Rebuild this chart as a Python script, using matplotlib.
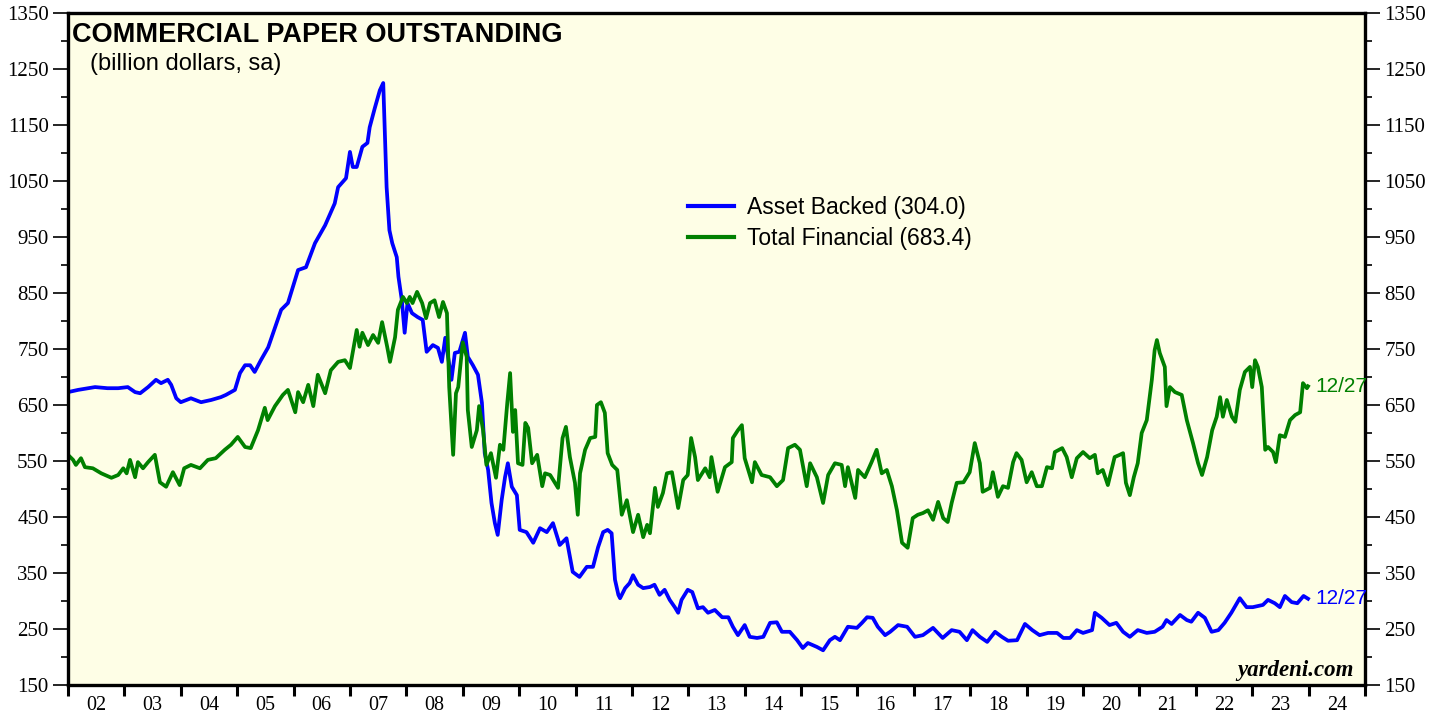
import numpy as np
import matplotlib
matplotlib.use("Agg")
from matplotlib import pyplot as plt
from matplotlib.ticker import MultipleLocator, FixedLocator, NullFormatter

# Asset backed commercial paper, billion dollars (decimal year, value)
ab_years = [2002.00, 2002.18, 2002.48, 2002.70, 2002.89, 2003.06, 2003.19, 2003.28, 2003.42, 2003.56,
            2003.65, 2003.77, 2003.83, 2003.92, 2004.00, 2004.18, 2004.36, 2004.54, 2004.71, 2004.80,
            2004.96, 2005.05, 2005.14, 2005.23, 2005.31, 2005.42, 2005.55, 2005.78, 2005.90, 2006.08,
            2006.22, 2006.38, 2006.56, 2006.73, 2006.79, 2006.93, 2007.00, 2007.05, 2007.12, 2007.22,
            2007.31, 2007.35, 2007.44, 2007.53, 2007.59, 2007.65, 2007.70, 2007.75, 2007.83, 2007.86,
            2007.92, 2007.97, 2008.02, 2008.10, 2008.20, 2008.29, 2008.36, 2008.47, 2008.56, 2008.63,
            2008.69, 2008.80, 2008.86, 2008.94, 2009.04, 2009.09, 2009.18, 2009.27, 2009.34, 2009.39,
            2009.45, 2009.51, 2009.57, 2009.62, 2009.69, 2009.75, 2009.80, 2009.87, 2009.96, 2010.01,
            2010.13, 2010.25, 2010.37, 2010.49, 2010.60, 2010.72, 2010.84, 2010.95, 2011.07, 2011.20,
            2011.31, 2011.40, 2011.49, 2011.57, 2011.64, 2011.70, 2011.76, 2011.79, 2011.88, 2011.96,
            2012.02, 2012.11, 2012.20, 2012.32, 2012.40, 2012.49, 2012.58, 2012.67, 2012.76, 2012.82,
            2012.88, 2012.99, 2013.07, 2013.17, 2013.26, 2013.35, 2013.47, 2013.60, 2013.71, 2013.79,
            2013.88, 2014.00, 2014.09, 2014.22, 2014.33, 2014.45, 2014.57, 2014.66, 2014.80, 2014.93,
            2015.03, 2015.12, 2015.28, 2015.39, 2015.51, 2015.60, 2015.69, 2015.83, 2015.99, 2016.08,
            2016.17, 2016.27, 2016.36, 2016.49, 2016.58, 2016.72, 2016.88, 2017.02, 2017.16, 2017.34,
            2017.51, 2017.67, 2017.81, 2017.94, 2018.04, 2018.17, 2018.30, 2018.44, 2018.56, 2018.67,
            2018.83, 2018.97, 2019.10, 2019.23, 2019.38, 2019.54, 2019.65, 2019.77, 2019.89, 2020.00,
            2020.16, 2020.21, 2020.33, 2020.47, 2020.59, 2020.71, 2020.83, 2020.97, 2021.13, 2021.27,
            2021.41, 2021.48, 2021.57, 2021.72, 2021.84, 2021.92, 2022.04, 2022.16, 2022.28, 2022.40,
            2022.51, 2022.63, 2022.78, 2022.90, 2023.01, 2023.19, 2023.28, 2023.40, 2023.49, 2023.58,
            2023.70, 2023.80, 2023.91, 2023.99]
ab_vals = [673, 677, 682, 680, 680, 682, 673, 671, 682, 695,
           689, 695, 686, 662, 655, 662, 655, 659, 664, 668,
           677, 707, 721, 721, 709, 730, 753, 820, 832, 891,
           896, 939, 971, 1010, 1039, 1055, 1102, 1075, 1075, 1111,
           1118, 1146, 1180, 1212, 1225, 1039, 962, 939, 914, 879,
           837, 779, 832, 814, 807, 802, 745, 757, 752, 727,
           770, 695, 743, 745, 779, 736, 721, 704, 654, 564,
           534, 475, 439, 418, 480, 521, 546, 504, 489, 427,
           423, 404, 430, 423, 439, 400, 412, 352, 343, 361,
           361, 396, 423, 427, 421, 338, 311, 305, 323, 332,
           346, 329, 323, 325, 329, 311, 320, 302, 289, 279,
           302, 320, 316, 287, 289, 279, 284, 271, 271, 254,
           239, 257, 236, 234, 236, 261, 262, 245, 245, 230,
           216, 225, 218, 212, 230, 236, 230, 254, 252, 261,
           271, 270, 254, 239, 245, 257, 254, 236, 239, 252,
           234, 248, 245, 230, 248, 236, 227, 245, 236, 229,
           230, 259, 248, 239, 243, 243, 234, 234, 248, 243,
           248, 279, 270, 257, 261, 245, 236, 248, 243, 245,
           254, 266, 259, 275, 266, 263, 279, 270, 245, 248,
           261, 279, 305, 289, 289, 293, 302, 296, 289, 309,
           298, 296, 309, 304.0]

# Total financial commercial paper, billion dollars
tf_years = [2002.00, 2002.09, 2002.14, 2002.23, 2002.30, 2002.44, 2002.59, 2002.77, 2002.89, 2002.98,
            2003.04, 2003.10, 2003.19, 2003.24, 2003.33, 2003.42, 2003.54, 2003.63, 2003.74, 2003.86,
            2003.98, 2004.06, 2004.18, 2004.34, 2004.48, 2004.62, 2004.78, 2004.89, 2005.01, 2005.14,
            2005.24, 2005.37, 2005.49, 2005.54, 2005.67, 2005.81, 2005.90, 2006.03, 2006.08, 2006.17,
            2006.26, 2006.35, 2006.43, 2006.56, 2006.66, 2006.79, 2006.91, 2007.00, 2007.12, 2007.17,
            2007.22, 2007.32, 2007.41, 2007.50, 2007.57, 2007.66, 2007.71, 2007.80, 2007.85, 2007.94,
            2008.01, 2008.06, 2008.11, 2008.19, 2008.28, 2008.35, 2008.42, 2008.50, 2008.58, 2008.65,
            2008.72, 2008.76, 2008.83, 2008.88, 2008.92, 2009.00, 2009.07, 2009.09, 2009.16, 2009.25,
            2009.29, 2009.36, 2009.42, 2009.50, 2009.59, 2009.66, 2009.72, 2009.79, 2009.84, 2009.89,
            2009.93, 2009.98, 2010.06, 2010.11, 2010.16, 2010.23, 2010.32, 2010.41, 2010.46, 2010.55,
            2010.63, 2010.69, 2010.77, 2010.83, 2010.90, 2010.99, 2011.04, 2011.08, 2011.17, 2011.26,
            2011.35, 2011.38, 2011.45, 2011.52, 2011.57, 2011.65, 2011.74, 2011.82, 2011.91, 2012.02,
            2012.11, 2012.20, 2012.27, 2012.32, 2012.41, 2012.46, 2012.55, 2012.62, 2012.71, 2012.82,
            2012.91, 2012.99, 2013.05, 2013.12, 2013.17, 2013.30, 2013.38, 2013.41, 2013.52, 2013.65,
            2013.77, 2013.79, 2013.88, 2013.95, 2014.00, 2014.13, 2014.18, 2014.30, 2014.45, 2014.57,
            2014.68, 2014.77, 2014.89, 2014.98, 2015.10, 2015.16, 2015.28, 2015.39, 2015.48, 2015.60,
            2015.72, 2015.78, 2015.83, 2015.96, 2016.01, 2016.13, 2016.25, 2016.34, 2016.43, 2016.52,
            2016.61, 2016.70, 2016.79, 2016.89, 2016.98, 2017.07, 2017.16, 2017.25, 2017.34, 2017.43,
            2017.52, 2017.60, 2017.67, 2017.76, 2017.88, 2017.99, 2018.08, 2018.17, 2018.22, 2018.35,
            2018.40, 2018.49, 2018.58, 2018.67, 2018.76, 2018.82, 2018.91, 2019.00, 2019.09, 2019.18,
            2019.27, 2019.36, 2019.45, 2019.50, 2019.63, 2019.71, 2019.80, 2019.89, 2020.00, 2020.12,
            2020.21, 2020.26, 2020.35, 2020.44, 2020.56, 2020.65, 2020.71, 2020.76, 2020.83, 2020.90,
            2020.97, 2021.04, 2021.13, 2021.22, 2021.27, 2021.31, 2021.36, 2021.45, 2021.48, 2021.54,
            2021.63, 2021.75, 2021.84, 2021.95, 2022.04, 2022.11, 2022.20, 2022.29, 2022.37, 2022.43,
            2022.48, 2022.55, 2022.64, 2022.70, 2022.78, 2022.87, 2022.96, 2023.00, 2023.05, 2023.10,
            2023.17, 2023.23, 2023.28, 2023.37, 2023.42, 2023.49, 2023.58, 2023.67, 2023.76, 2023.85,
            2023.90, 2023.97, 2023.99]
tf_vals = [561, 552, 543, 555, 539, 537, 528, 520, 525, 537,
           528, 552, 521, 548, 537, 548, 561, 512, 504, 530,
           507, 537, 543, 537, 552, 555, 570, 579, 593, 575,
           573, 605, 645, 623, 648, 668, 677, 637, 673, 655,
           686, 648, 704, 671, 712, 727, 730, 716, 784, 754,
           779, 757, 775, 761, 798, 754, 727, 771, 820, 843,
           832, 843, 832, 852, 832, 805, 832, 837, 807, 834,
           814, 682, 561, 671, 682, 762, 736, 641, 575, 605,
           648, 605, 543, 564, 520, 579, 570, 654, 707, 602,
           641, 546, 543, 618, 609, 546, 561, 505, 528, 525,
           512, 502, 591, 611, 557, 511, 454, 528, 570, 591,
           593, 650, 655, 636, 564, 543, 534, 454, 480, 423,
           454, 414, 436, 421, 502, 468, 493, 528, 530, 466,
           516, 525, 591, 557, 516, 537, 521, 557, 495, 539,
           548, 591, 605, 614, 555, 512, 548, 525, 521, 505,
           516, 573, 579, 570, 505, 546, 521, 475, 525, 546,
           543, 505, 539, 484, 534, 521, 548, 570, 528, 534,
           505, 462, 404, 395, 448, 454, 457, 462, 445, 477,
           448, 441, 475, 511, 512, 530, 582, 546, 495, 502,
           530, 486, 505, 502, 548, 564, 552, 512, 530, 505,
           505, 539, 537, 566, 573, 557, 521, 555, 566, 555,
           561, 528, 534, 507, 557, 561, 564, 511, 489, 521,
           546, 600, 623, 695, 748, 766, 743, 718, 648, 682,
           673, 668, 623, 582, 546, 525, 557, 605, 629, 664,
           629, 659, 629, 620, 677, 709, 718, 682, 730, 718,
           682, 570, 575, 566, 548, 596, 593, 623, 632, 637,
           689, 680, 683.4]

year_labels = ["02", "03", "04", "05", "06", "07", "08", "09", "10", "11", "12", "13",
               "14", "15", "16", "17", "18", "19", "20", "21", "22", "23", "24"]
last_date = "12/27"

BLUE = "#0000ff"
GREEN = "#008000"
sans = "Liberation Sans"

plt.rcParams["font.family"] = "Liberation Serif"

fig = plt.figure(figsize=(14.46, 7.17), dpi=100)
ax = fig.add_axes([68 / 1446, 32 / 717, 1297 / 1446, 672 / 717])
ax.set_facecolor("#fefee6")

ax.plot(ab_years, ab_vals, color=BLUE, lw=2.7, label="Asset Backed (%.1f)" % ab_vals[-1])
ax.plot(tf_years, tf_vals, color=GREEN, lw=2.7, label="Total Financial (%.1f)" % tf_vals[-1])

ax.set_xlim(2002, 2025)
ax.set_ylim(150, 1350)

# y axis: labels both sides, minor ticks between
ax.set_yticks(np.arange(150, 1351, 100))
ax.yaxis.set_minor_locator(MultipleLocator(50))
ax.tick_params(axis="y", which="major", length=11, width=1.2, direction="out",
               right=True, labelright=True, pad=3, labelsize=15)
ax.tick_params(axis="y", which="minor", length=5, width=1.2, direction="out", right=True)

# x axis: ticks at year boundaries, labels centred in each year
year_starts = np.arange(2002, 2026)
ax.xaxis.set_major_locator(FixedLocator(year_starts))
ax.xaxis.set_major_formatter(NullFormatter())
ax.xaxis.set_minor_locator(FixedLocator(year_starts[:-1] + 0.5))
ax.set_xticklabels(year_labels, minor=True)
ax.tick_params(axis="x", which="major", length=8, width=2.2, direction="out")
ax.tick_params(axis="x", which="minor", length=0, pad=8, labelsize=14.5)

for s in ax.spines.values():
    s.set_linewidth(2.4)

ax.text(0.003, 0.986, "COMMERCIAL PAPER OUTSTANDING", transform=ax.transAxes,
        fontsize=19.5, fontweight="bold", family=sans, va="top", ha="left")
ax.text(0.017, 0.94, "(billion dollars, sa)", transform=ax.transAxes,
        fontsize=17, family=sans, va="top", ha="left")

leg = ax.legend(loc="upper left", bbox_to_anchor=(0.462, 0.759), frameon=False,
                prop={"family": sans, "size": 16.5}, handlelength=2.0,
                handletextpad=0.6, labelspacing=0.38)
for h in leg.legend_handles:
    h.set_linewidth(3)

ax.annotate(last_date, xy=(ab_years[-1], ab_vals[-1]), xytext=(5, 0), textcoords="offset points",
            color=BLUE, fontsize=15, family=sans, va="center", ha="left")
ax.annotate(last_date, xy=(tf_years[-1], tf_vals[-1]), xytext=(5, 0), textcoords="offset points",
            color=GREEN, fontsize=15, family=sans, va="center", ha="left")

ax.text(0.991, 0.0134, "yardeni.com", transform=ax.transAxes, fontsize=16.5,
        fontweight="bold", fontstyle="italic", ha="right", va="baseline")

fig.savefig("out.png", dpi=100)
